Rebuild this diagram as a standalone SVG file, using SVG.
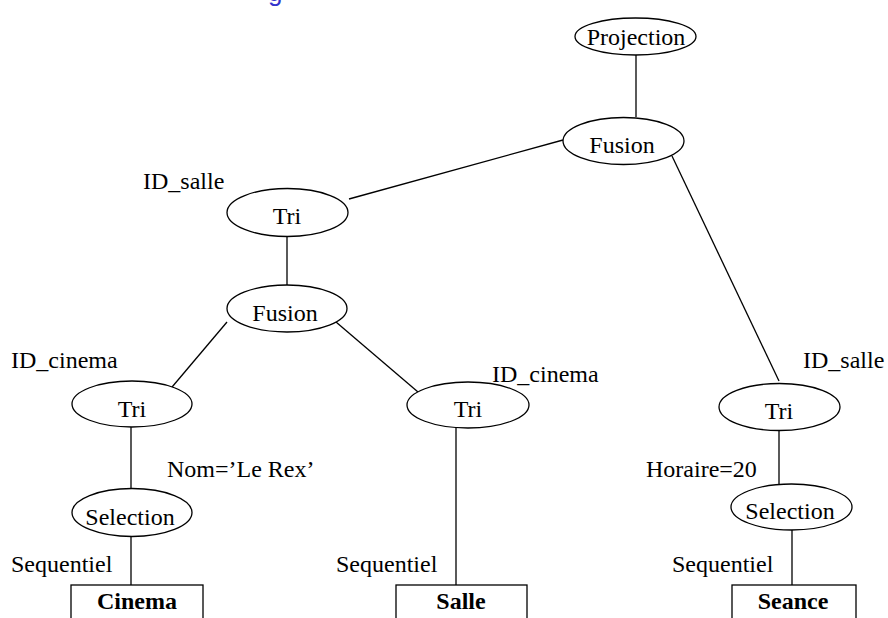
<svg xmlns="http://www.w3.org/2000/svg" width="888" height="618" viewBox="0 0 888 618">
  <style>
    .node ellipse { fill: #ffffff; stroke: #000000; stroke-width: 1.3; }
    .node rect { fill: #ffffff; stroke: #000000; stroke-width: 1.3; }
    .edges line { stroke: #000000; stroke-width: 1.3; }
    text { font-family: "Liberation Serif", "Times New Roman", serif; font-size: 24px; fill: #000000; }
    .c { text-anchor: middle; }
    .b { font-weight: bold; }
    .title { font-family: "Liberation Sans", Arial, sans-serif; font-size: 26px; fill: #3333cc; }
  </style>

  <rect width="888" height="618" fill="#ffffff"/>

  <!-- heading, clipped by the top edge -->
  <text class="title" x="268" y="1">g</text>

  <!-- connectors -->
  <g id="edges" class="edges">
    <line x1="636" y1="55" x2="636" y2="117"/>
    <line x1="563" y1="140" x2="349" y2="199"/>
    <line x1="672" y1="156" x2="779" y2="381"/>
    <line x1="287" y1="237" x2="287" y2="285"/>
    <line x1="227" y1="322" x2="167" y2="393"/>
    <line x1="336" y1="322" x2="418" y2="392"/>
    <line x1="131" y1="427" x2="131" y2="488"/>
    <line x1="131" y1="537" x2="131" y2="585"/>
    <line x1="456" y1="428" x2="456" y2="585"/>
    <line x1="779" y1="430" x2="779" y2="484"/>
    <line x1="792" y1="530" x2="792" y2="585"/>
  </g>

  <!-- operators -->
  <g id="projection" class="node">
    <ellipse cx="635.5" cy="36.5" rx="60.5" ry="18.5"/>
    <text class="c" x="636" y="45">Projection</text>
  </g>
  <g id="fusion-top" class="node">
    <ellipse cx="623.5" cy="141" rx="60.5" ry="23.5"/>
    <text class="c" x="622" y="153">Fusion</text>
  </g>
  <g id="tri-salle" class="node">
    <ellipse cx="287.5" cy="212.5" rx="60.5" ry="24"/>
    <text class="c" x="287" y="224">Tri</text>
  </g>
  <g id="fusion-mid" class="node">
    <ellipse cx="287" cy="308.5" rx="60" ry="23.5"/>
    <text class="c" x="285" y="321">Fusion</text>
  </g>
  <g id="tri-cinema" class="node">
    <ellipse cx="132" cy="404" rx="60" ry="23"/>
    <text class="c" x="132" y="417">Tri</text>
  </g>
  <g id="tri-cinema-salle" class="node">
    <ellipse cx="468" cy="405" rx="61" ry="23"/>
    <text class="c" x="468" y="417">Tri</text>
  </g>
  <g id="tri-seance" class="node">
    <ellipse cx="779.5" cy="407" rx="60.5" ry="23.5"/>
    <text class="c" x="779" y="419">Tri</text>
  </g>
  <g id="selection-cinema" class="node">
    <ellipse cx="132" cy="512.5" rx="60" ry="24"/>
    <text class="c" x="130" y="525">Selection</text>
  </g>
  <g id="selection-seance" class="node">
    <ellipse cx="791.5" cy="507" rx="60.5" ry="23"/>
    <text class="c" x="790" y="519">Selection</text>
  </g>

  <!-- base relations -->
  <g id="cinema" class="node">
    <rect x="71" y="585" width="132" height="50"/>
    <text class="c b" x="137" y="609">Cinema</text>
  </g>
  <g id="salle" class="node">
    <rect x="396" y="585" width="131" height="50"/>
    <text class="c b" x="461" y="609">Salle</text>
  </g>
  <g id="seance" class="node">
    <rect x="732" y="585" width="124" height="50"/>
    <text class="c b" x="793" y="609">Seance</text>
  </g>

  <!-- annotations -->
  <g id="annotations">
    <text x="143" y="189">ID_salle</text>
    <text x="11" y="368">ID_cinema</text>
    <text x="492" y="382">ID_cinema</text>
    <text x="803" y="368">ID_salle</text>
    <text x="167" y="477">Nom=’Le Rex’</text>
    <text x="646" y="477">Horaire=20</text>
    <text x="11" y="572">Sequentiel</text>
    <text x="336" y="572">Sequentiel</text>
    <text x="672" y="572">Sequentiel</text>
  </g>
</svg>
